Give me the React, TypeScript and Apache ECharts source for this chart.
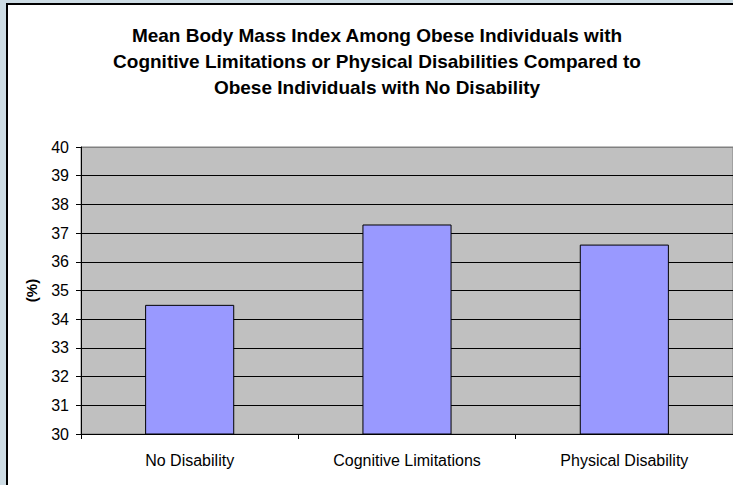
import React, { useEffect, useRef } from "react";
import * as echarts from "echarts";

const categories = ["No Disability", "Cognitive Limitations", "Physical Disability"];
const meanBMI = [34.5, 37.3, 36.6];
const yMin = 30;
const yMax = 40;
const titleLines = [
  "Mean Body Mass Index Among Obese Individuals with",
  "Cognitive Limitations or Physical Disabilities Compared to",
  "Obese Individuals with No Disability",
];
const yAxisName = "(%)";

const FONT = "Arial, 'Liberation Sans', sans-serif";

export default function App() {
  const ref = useRef<HTMLDivElement>(null);
  useEffect(() => {
    if (!ref.current) return;
    const chart = echarts.init(ref.current, null, { renderer: "svg" });
    const splitColors: string[] = [];
    for (let v = yMin; v <= yMax; v++) splitColors.push(v === yMax ? "#808080" : "#000000");
    chart.setOption({
      animation: false,
      backgroundColor: "#cddce4",
      graphic: [
        {
          type: "rect",
          shape: { x: 7, y: 4, width: 760, height: 500 },
          style: { fill: "#ffffff", stroke: "#000000", lineWidth: 2 },
          z: -10,
        },
        {
          type: "text",
          x: 377,
          y: 22,
          style: {
            text: titleLines.join("\n"),
            font: `bold 19px ${FONT}`,
            fill: "#000000",
            textAlign: "center",
            textVerticalAlign: "top",
            lineHeight: 26,
          },
        },
      ],
      grid: {
        left: 81,
        top: 147,
        width: 654,
        height: 287,
        show: true,
        backgroundColor: "#c0c0c0",
        borderColor: "#808080",
        borderWidth: 1,
      },
      xAxis: {
        type: "category",
        data: categories,
        axisLine: { lineStyle: { color: "#000000", width: 1 } },
        axisTick: { show: true, length: 5, lineStyle: { color: "#000000" } },
        axisLabel: { color: "#000000", fontSize: 16, fontFamily: FONT, margin: 18 },
      },
      yAxis: {
        type: "value",
        min: yMin,
        max: yMax,
        interval: 1,
        name: yAxisName,
        nameLocation: "middle",
        nameRotate: 90,
        nameGap: 42,
        nameTextStyle: { color: "#000000", fontSize: 15, fontWeight: "bold", fontFamily: FONT },
        axisLine: { show: true, lineStyle: { color: "#000000", width: 1 } },
        axisTick: { show: true, length: 5, lineStyle: { color: "#000000" } },
        axisLabel: { color: "#000000", fontSize: 16, fontFamily: FONT, margin: 12 },
        splitLine: { show: true, lineStyle: { color: splitColors, width: 1 } },
      },
      series: [
        {
          type: "bar",
          data: meanBMI,
          barCategoryGap: "59%",
          itemStyle: { color: "#9999ff", borderColor: "#000000", borderWidth: 1 },
        },
      ],
    });
    return () => chart.dispose();
  }, []);
  return (
    <div
      ref={ref}
      style={{ position: "fixed", left: 0, top: 0, width: 733, height: 485 }}
    />
  );
}
